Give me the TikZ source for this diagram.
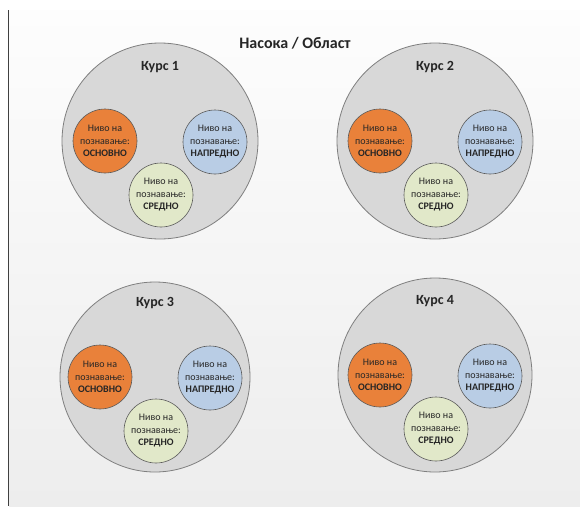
\documentclass[tikz,border=0pt]{standalone}
\usepackage{fontspec}
\setmainfont{Carlito}
\definecolor{bgtop}{HTML}{FDFDFD}
\definecolor{bgbot}{HTML}{EDEDED}
\definecolor{bigfill}{HTML}{D8D8D8}
\definecolor{bigline}{HTML}{7F7F7F}
\definecolor{orangefill}{HTML}{E9813A}
\definecolor{bluefill}{HTML}{B9CDE5}
\definecolor{greenfill}{HTML}{E1E8C9}
\definecolor{smallline}{HTML}{5A5A5A}
\definecolor{txt}{HTML}{262626}
\tikzset{
  course/.style={circle, fill=bigfill, draw=bigline, line width=0.8pt, minimum size=196pt, inner sep=0pt},
  level/.style={circle, draw=smallline, line width=0.6pt, minimum size=64pt, inner sep=0pt, align=center, text=txt, font=\fontsize{10}{12.5}\selectfont},
  basic/.style={level, fill=orangefill},
  adv/.style={level, fill=bluefill},
  mid/.style={level, fill=greenfill},
  coursetitle/.style={font=\fontsize{14}{16}\selectfont\bfseries, text=txt},
  maintitle/.style={font=\fontsize{16}{19}\selectfont\bfseries, text=txt}
}
\begin{document}
\begin{tikzpicture}[x=1pt,y=-1pt]
\useasboundingbox (0,0) rectangle (580,506);
\fill[white] (0,0) rectangle (580,506);
\shade[top color=bgtop, bottom color=bgbot] (9,10) rectangle (580,506);
\draw[line width=1.6pt, color=black!75] (8.5,10) -- (8.5,506);
\node[maintitle] (title) at (295,43) {Насока / Област};
\foreach \n/\cx/\cy/\r in {1/160/141/98, 2/435/141/98, 3/155/377/95, 4/435/375/97}{
  \node[course, minimum size=2*\r pt] (c\n) at (\cx,\cy) {};
  \node[coursetitle] (t\n) at (\cx,\cy-74) {Курс \n};
  \node[basic] (b\n) at (\cx-55,\cy) {Ниво на\\познавање:\\\textbf{ОСНОВНО}};
  \node[adv] (a\n) at (\cx+55,\cy+1) {Ниво на\\познавање:\\\textbf{НАПРЕДНО}};
  \node[mid] (m\n) at (\cx+1,\cy+54) {Ниво на\\познавање:\\\textbf{СРЕДНО}};
}
\end{tikzpicture}
\end{document}
